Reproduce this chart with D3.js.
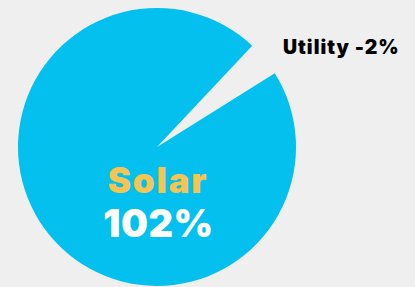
<!DOCTYPE html>
<html>
<head>
<meta charset="utf-8">
<script src="https://cdn.jsdelivr.net/npm/d3@7"></script>
<style>
  html, body { margin: 0; padding: 0; background: #efefef; }
  svg { display: block; }
  text { font-family: Inter, "Open Sans", sans-serif; font-weight: 900; }
</style>
</head>
<body>
<svg id="chart" width="415" height="287"></svg>
<script>
const categories = ["Utility", "Solar"];
const values = [-2, 102];
const labels = ["Utility -2%", "102%"];

const width = 415, height = 287;
const cx = 157, cy = 147, radius = 139;

const svg = d3.select("#chart");
svg.append("rect").attr("width", width).attr("height", height).attr("fill", "#efefef");

const pie = d3.pie()
  .sort(null)
  .value(d => Math.abs(d))
  .startAngle(0.789)
  .endAngle(0.789 + 2 * Math.PI)
  .padAngle(0.0692);

const arcs = pie(values);
const arc = d3.arc().innerRadius(0).outerRadius(radius);

const colors = { Utility: "none", Solar: "#03c0ef" };

const g = svg.append("g").attr("transform", `translate(${cx},${cy})`);
g.selectAll("path")
  .data(arcs)
  .join("path")
  .attr("d", arc)
  .attr("fill", (d, i) => colors[categories[i]]);

// Solar label
g.append("text")
  .attr("x", 1).attr("y", 46)
  .attr("text-anchor", "middle")
  .attr("fill", "#f5c451")
  .attr("font-size", 35)
  .attr("letter-spacing", 1.8)
  .text(categories[1]);
g.append("text")
  .attr("x", 1.5).attr("y", 90)
  .attr("text-anchor", "middle")
  .attr("fill", "#ffffff")
  .attr("font-size", 38)
  .attr("letter-spacing", 0.5)
  .text(labels[1]);

// Utility label
svg.append("text")
  .attr("x", 283).attr("y", 54)
  .attr("text-anchor", "start")
  .attr("fill", "#000000")
  .attr("font-size", 19.5)
  .attr("letter-spacing", 1)
  .text(labels[0]);
</script>
</body>
</html>
